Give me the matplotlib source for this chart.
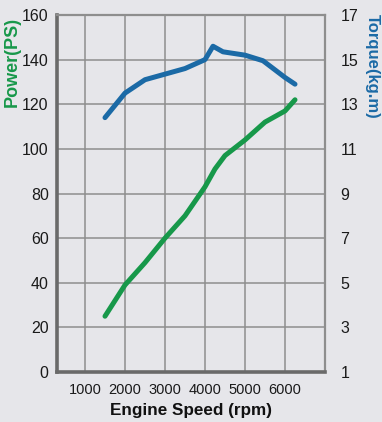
import matplotlib
matplotlib.use("Agg")
import matplotlib.pyplot as plt

rpm_power = [1500, 2000, 2500, 3000, 3500, 4000, 4250, 4500, 5000, 5500, 6000, 6250]
power_ps = [25, 39, 49, 60, 70, 83, 91, 97, 104, 112, 117, 122]

rpm_torque = [1500, 2000, 2500, 3000, 3500, 4000, 4200, 4450, 5000, 5450, 6000, 6250]
torque_kgm = [12.4, 13.5, 14.1, 14.35, 14.6, 15.0, 15.6, 15.35, 15.2, 14.95, 14.2, 13.9]

x_ticks = [1000, 2000, 3000, 4000, 5000, 6000]
power_ticks = [0, 20, 40, 60, 80, 100, 120, 140, 160]
torque_ticks = [1, 3, 5, 7, 9, 11, 13, 15, 17]

bg = "#e6e6ea"
green = "#17984a"
blue = "#1b6aa6"
narrow = ["Liberation Sans", "DejaVu Sans"]
bold = ["Liberation Sans", "DejaVu Sans"]

fig = plt.figure(figsize=(3.82, 4.22), dpi=100, facecolor=bg)
ax = fig.add_axes([57/382, 50/422, 268/382, 357/422])
ax.set_facecolor(bg)
ax.set_xlim(300, 7000)
ax.set_ylim(0, 160)
ax.set_xticks(x_ticks)
ax.set_yticks(power_ticks)
ax.grid(True, color="#8e8e8e", linewidth=1.1)
ax.set_axisbelow(True)
for s in ["top", "right"]:
    ax.spines[s].set_color("#8e8e8e")
    ax.spines[s].set_linewidth(1.6)
for s in ["left", "bottom"]:
    ax.spines[s].set_color("#6a6a6a")
    ax.spines[s].set_linewidth(2.6)
ax.tick_params(axis="both", length=0)
ax.tick_params(axis="y", pad=6)
ax.tick_params(axis="x", pad=8)
for lab in ax.get_yticklabels():
    lab.set_family(narrow); lab.set_fontsize(11.5); lab.set_color("#1a1a1a")
for lab in ax.get_xticklabels():
    lab.set_family(narrow); lab.set_fontsize(10.5); lab.set_color("#1a1a1a")

ax.plot(rpm_power, power_ps, color=green, linewidth=3.6, solid_capstyle="round",
        solid_joinstyle="round", zorder=3)

ax2 = ax.twinx()
ax2.set_ylim(1, 17)
ax2.set_yticks(torque_ticks)
for s in ax2.spines.values():
    s.set_visible(False)
ax2.tick_params(axis="y", length=0, pad=11)
for lab in ax2.get_yticklabels():
    lab.set_family(narrow); lab.set_fontsize(11.5); lab.set_color("#1a1a1a")
ax2.plot(rpm_torque, torque_kgm, color=blue, linewidth=3.6, solid_capstyle="round",
         solid_joinstyle="round", zorder=3)

ax.set_xlabel("Engine Speed (rpm)", family=bold, fontweight="bold", fontsize=12.3,
              color="#111111", labelpad=4)
fig.text(12/382, 1 - 62/422, "Power(PS)", rotation=90, ha="center", va="center",
         family=bold, fontweight="bold", fontsize=13, color=green)
fig.text(372/382, 1 - 66/422, "Torque(kg.m)", rotation=-90, ha="center", va="center",
         family=bold, fontweight="bold", fontsize=12, color=blue)

fig.savefig("out.png", dpi=100, facecolor=bg)
